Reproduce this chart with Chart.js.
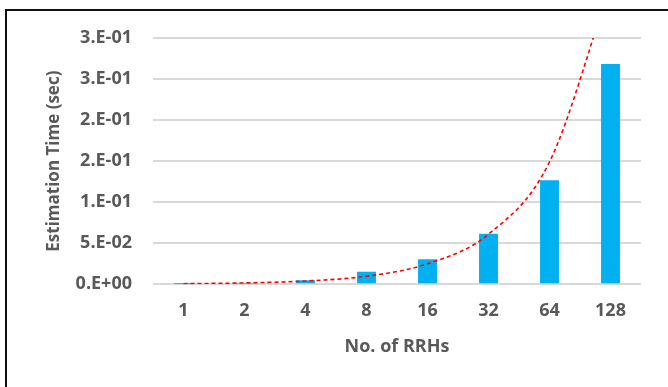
<!DOCTYPE html>
<html>
<head>
<meta charset="utf-8">
<script src="https://cdn.jsdelivr.net/npm/chart.js@4.4.1/dist/chart.umd.min.js"></script>
<style>
  html, body { margin: 0; padding: 0; background: #ffffff; }
  #wrap { width: 668px; height: 387px; position: relative; }
</style>
</head>
<body>
<div id="wrap"><canvas id="chart" width="668" height="387"></canvas></div>
<script>
// Number of RRHs on the category axis
const rrhCounts = ['1', '2', '4', '8', '16', '32', '64', '128'];
// Measured estimation time in seconds
const estimationTime = [0.0002, 0.0008, 0.0049, 0.0154, 0.0305, 0.0617, 0.1268, 0.2683];
// Exponential trend, sampled at each category
const trendTime = [0.0007, 0.0017, 0.0040, 0.0098, 0.0250, 0.0610, 0.1490, 0.3650];
// Value-axis labels in the sheet's "0.E+00" number format
const yTickLabels = ['0.E+00', '5.E-02', '1.E-01', '2.E-01', '2.E-01', '3.E-01', '3.E-01'];

const FONT = '"Open Sans", "Noto Sans", "Liberation Sans", sans-serif';
const TEXT = '#595959';

// Black frame on the left and top edges of the chart box
const framePlugin = {
  id: 'frame',
  beforeDraw(chart) {
    const ctx = chart.ctx;
    ctx.save();
    ctx.strokeStyle = '#111111';
    ctx.lineWidth = 2;
    ctx.beginPath();
    ctx.moveTo(6, 387);
    ctx.lineTo(6, 10);
    ctx.lineTo(668, 10);
    ctx.stroke();
    ctx.restore();
  }
};

new Chart(document.getElementById('chart'), {
  data: {
    labels: rrhCounts,
    datasets: [
      {
        type: 'line',
        label: 'Trend',
        data: trendTime,
        borderColor: '#ff0000',
        borderWidth: 1.6,
        borderDash: [4, 3],
        pointRadius: 0,
        cubicInterpolationMode: 'monotone',
        fill: false,
        clip: 0,
        order: 0
      },
      {
        type: 'bar',
        label: 'Estimation Time',
        data: estimationTime,
        backgroundColor: '#00b0f0',
        borderWidth: 0,
        categoryPercentage: 1.0,
        barPercentage: 0.31,
        order: 1
      }
    ]
  },
  options: {
    responsive: false,
    animation: false,
    events: [],
    layout: { padding: { left: 0, top: 38, right: 27, bottom: 0 } },
    plugins: {
      legend: { display: false },
      tooltip: { enabled: false }
    },
    scales: {
      x: {
        offset: true,
        grid: { display: false, drawTicks: false },
        border: { display: false },
        ticks: {
          color: TEXT,
          padding: 16,
          font: { family: FONT, size: 18, weight: '700' }
        },
        title: {
          display: true,
          text: 'No. of RRHs',
          color: TEXT,
          font: { family: FONT, size: 18, weight: '700' },
          padding: { top: 0, bottom: 29 }
        },
        afterFit(scale) { scale.height = 387 - 284.3; }
      },
      y: {
        min: 0,
        max: 0.3,
        ticks: {
          stepSize: 0.05,
          color: TEXT,
          padding: 21,
          font: { family: FONT, size: 18, weight: '700' },
          callback: (value, index) => yTickLabels[index]
        },
        grid: { color: '#d9d9d9', lineWidth: 2, drawTicks: false },
        border: { display: false },
        title: {
          display: true,
          text: 'Estimation Time (sec)',
          color: TEXT,
          font: { family: FONT, size: 17, weight: '700' },
          padding: { top: 44, bottom: 0 }
        },
        afterFit(scale) { scale.width = 153; }
      }
    }
  },
  plugins: [framePlugin]
});
</script>
</body>
</html>
